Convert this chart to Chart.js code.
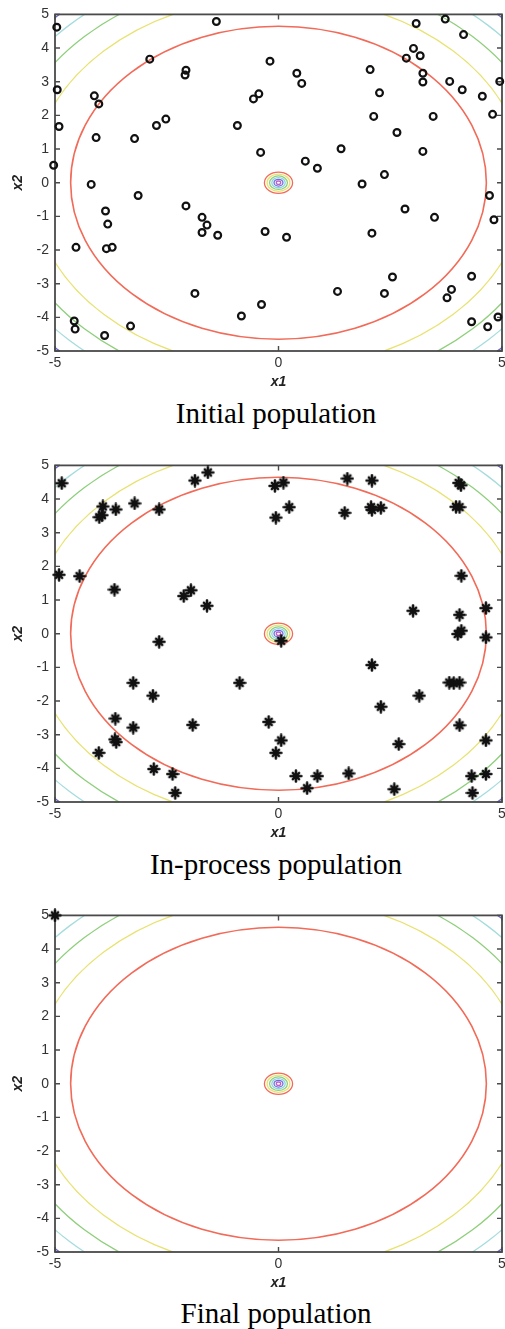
<!DOCTYPE html>
<html>
<head>
<meta charset="utf-8">
<script src="https://cdn.jsdelivr.net/npm/chart.js@4/dist/chart.umd.min.js"></script>
<style>
  html, body { margin: 0; padding: 0; background: #fff; width: 505px; height: 1329px; overflow: hidden; }
  canvas.panel { position: absolute; left: 0; }
  .caption {
    position: absolute; left: 0; width: 552px; text-align: center;
    font-family: "Liberation Serif", "Times New Roman", serif;
    font-size: 29px; line-height: 29px; color: #000; white-space: nowrap;
  }
</style>
</head>
<body>
<canvas id="initial" class="panel" width="520" height="395" style="top:0px"></canvas>
<div class="caption" style="top:399px">Initial population</div>
<canvas id="inprocess" class="panel" width="520" height="395" style="top:451px"></canvas>
<div class="caption" style="top:850px">In-process population</div>
<canvas id="final" class="panel" width="520" height="395" style="top:901px"></canvas>
<div class="caption" style="top:1299px">Final population</div>

<script>
// Search domain and tick values
const xTicks = [-5, 0, 5];
const yTicks = [-5, -4, -3, -2, -1, 0, 1, 2, 3, 4, 5];

// Objective contour levels (circular about the optimum), given as radii in x1/x2 units
const contourCenter = [0, 0];
const outerContourRadii = [4.65, 5.53, 6.14, 6.62, 7.0];
const outerContourColors = ['#f26a58', '#e8e272', '#8fcf7c', '#a6dcdc', '#6464d2'];
const innerContourRadii = [0.315, 0.255, 0.2, 0.15, 0.1, 0.05];
const innerContourColors = ['#f26a58', '#e8e272', '#8fcf7c', '#8cd4e0', '#6a6ae0', '#c060c8'];

// Initial population
const initialX1 = [-4.96,-1.39,-2.88,-2.07,-2.09,-4.95,-4.12,-4.02,-4.91,-2.73,
  -2.52,-4.08,-3.22,-5.03,-4.19,-3.14,-2.07,-3.87,-0.56,-0.44,
  -0.40,-0.92,-0.19,0.41,0.52,2.05,2.26,2.13,2.65,3.46,
  3.23,3.08,3.73,4.14,3.02,2.86,3.17,3.23,3.23,3.83,
  4.11,4.56,4.95,4.79,0.60,0.87,1.40,2.37,1.87,2.83,
  3.49,4.72,4.82,-3.82,-4.53,-3.85,-3.72,-4.57,-4.55,-3.89,
  -3.31,-1.71,-1.60,-1.71,-1.36,-1.87,-0.83,-0.38,-0.30,0.18,
  2.09,1.32,2.37,2.55,3.77,3.87,4.32,4.32,4.68,4.91];
const initialX2 = [4.62,4.79,3.67,3.34,3.20,2.76,2.58,2.34,1.67,1.70,
  1.89,1.34,1.31,0.52,-0.05,-0.38,-0.69,-0.84,2.49,2.64,
  0.90,1.70,3.61,3.25,2.95,3.36,2.67,1.97,1.49,1.97,
  0.93,4.73,4.86,4.40,3.99,3.70,3.77,3.25,2.99,3.01,
  2.76,2.57,3.01,2.03,0.64,0.43,1.01,0.24,-0.04,-0.78,
  -1.03,-0.38,-1.10,-1.23,-1.92,-1.96,-1.92,-4.11,-4.35,-4.54,
  -4.26,-1.03,-1.26,-1.48,-1.56,-3.29,-3.96,-3.62,-1.45,-1.62,
  -1.50,-3.23,-3.29,-2.80,-3.42,-3.17,-2.78,-4.13,-4.28,-3.99];

// Population part-way through the run
const inProcessX1 = [-4.85,-3.93,-4.01,-3.95,-3.64,-3.22,-2.67,-1.87,-1.58,-4.91,
  -4.45,-3.67,-2.12,-1.96,-1.60,-2.67,
  -0.08,0.11,0.24,-0.06,1.54,2.09,1.48,2.07,2.29,2.09,
  4.03,4.08,3.97,4.05,4.09,3.01,4.05,4.64,4.01,4.09,4.64,0.06,
  -3.25,-2.81,-3.65,-3.25,-3.66,-3.63,-4.02,-2.79,-2.37,-2.31,-1.92,-0.87,
  -0.22,0.06,-0.06,0.39,0.64,0.87,1.57,2.09,2.29,3.15,
  2.69,2.59,3.82,3.92,4.05,4.05,4.64,4.32,4.64,4.34];
const inProcessX2 = [4.47,3.78,3.46,3.52,3.69,3.87,3.69,4.55,4.79,1.75,
  1.71,1.31,1.12,1.29,0.83,-0.24,
  4.39,4.49,3.76,3.45,4.61,4.55,3.59,3.76,3.74,3.68,
  4.48,4.41,3.77,3.76,1.72,0.68,0.56,0.76,-0.01,0.09,-0.11,-0.21,
  -1.46,-1.84,-2.52,-2.79,-3.14,-3.22,-3.54,-4.02,-4.17,-4.73,-2.71,-1.46,
  -2.62,-3.17,-3.54,-4.23,-4.59,-4.23,-4.15,-0.93,-2.17,-1.84,
  -3.28,-4.62,-1.45,-1.47,-1.45,-2.72,-3.17,-4.23,-4.17,-4.73];

// Converged population
const finalX1 = [-5];
const finalX2 = [5];

const FONT_SANS = '"Liberation Sans", Arial, Helvetica, sans-serif';
Chart.defaults.font.family = FONT_SANS;

function toPoints(xs, ys) {
  return xs.map((v, i) => ({ x: v, y: ys[i] }));
}

// Heavy asterisk marker, like a bold '*' plot symbol
function asteriskMarker() {
  const c = document.createElement('canvas');
  c.width = 14; c.height = 14;
  const g = c.getContext('2d');
  g.strokeStyle = '#111';
  g.lineCap = 'round';
  g.lineWidth = 2.6;
  g.beginPath();
  g.moveTo(7, 1.6); g.lineTo(7, 12.4);
  g.moveTo(1.6, 7); g.lineTo(12.4, 7);
  g.stroke();
  g.beginPath();
  g.moveTo(3.9, 3.9); g.lineTo(10.1, 10.1);
  g.moveTo(10.1, 3.9); g.lineTo(3.9, 10.1);
  g.stroke();
  return c;
}
const ASTERISK = asteriskMarker();

// Contours underneath the population, then the box with inward ticks
const contourPlugin = {
  id: 'contours',
  beforeDatasetsDraw(chart) {
    const { ctx, chartArea: a, scales: { x, y } } = chart;
    const cx = x.getPixelForValue(contourCenter[0]);
    const cy = y.getPixelForValue(contourCenter[1]);
    const ring = (r, color, width) => {
      const rx = Math.abs(x.getPixelForValue(contourCenter[0] + r) - cx);
      const ry = Math.abs(y.getPixelForValue(contourCenter[1] + r) - cy);
      ctx.beginPath();
      ctx.ellipse(cx, cy, rx, ry, 0, 0, Math.PI * 2);
      ctx.strokeStyle = color;
      ctx.lineWidth = width;
      ctx.stroke();
    };
    ctx.save();
    ctx.beginPath();
    ctx.rect(a.left, a.top, a.right - a.left, a.bottom - a.top);
    ctx.clip();
    outerContourRadii.forEach((r, i) => ring(r, outerContourColors[i], i === 0 ? 1.6 : 1.3));
    innerContourRadii.forEach((r, i) => ring(r, innerContourColors[i], 1.3));
    ctx.restore();

    // axes box
    ctx.save();
    ctx.strokeStyle = '#4a4a4a';
    ctx.lineWidth = 1.8;
    ctx.strokeRect(a.left, a.top, a.right - a.left, a.bottom - a.top);
    const tl = 5;
    ctx.lineWidth = 1.4;
    ctx.beginPath();
    x.ticks.forEach(t => {
      const px = x.getPixelForValue(t.value);
      ctx.moveTo(px, a.bottom); ctx.lineTo(px, a.bottom - tl);
      ctx.moveTo(px, a.top); ctx.lineTo(px, a.top + tl);
    });
    y.ticks.forEach(t => {
      const py = y.getPixelForValue(t.value);
      ctx.moveTo(a.left, py); ctx.lineTo(a.left + tl, py);
      ctx.moveTo(a.right, py); ctx.lineTo(a.right - tl, py);
    });
    ctx.stroke();
    ctx.restore();
  }
};

function makeChart(id, xs, ys, marker) {
  const isCircle = marker === 'circle';
  const dataset = {
    data: toPoints(xs, ys),
    showLine: false,
    clip: false,
    pointStyle: isCircle ? 'circle' : ASTERISK,
    pointBorderColor: '#111',
    pointBackgroundColor: isCircle ? 'rgba(0,0,0,0)' : '#111',
    pointRadius: isCircle ? 3.4 : 5,
    pointBorderWidth: isCircle ? 2.2 : 0,
    pointHoverRadius: 0
  };
  return new Chart(document.getElementById(id), {
    type: 'scatter',
    data: { datasets: [dataset] },
    plugins: [contourPlugin],
    options: {
      responsive: false,
      maintainAspectRatio: false,
      animation: false,
      events: [],
      layout: { padding: { top: 13, left: 0, right: 18, bottom: 4 } },
      plugins: { legend: { display: false }, tooltip: { enabled: false } },
      scales: {
        x: {
          type: 'linear', min: -5, max: 5,
          afterBuildTicks: s => { s.ticks = xTicks.map(v => ({ value: v })); },
          afterFit: s => { s.height = 40; },
          grid: { display: false, drawTicks: false },
          border: { display: false },
          ticks: { color: '#333', font: { size: 14 }, padding: 4, maxRotation: 0, autoSkip: false },
          title: { display: true, text: 'x1', color: '#222',
                   font: { size: 14, style: 'italic', weight: 'bold' }, padding: { top: 0, bottom: 0 } }
        },
        y: {
          type: 'linear', min: -5, max: 5,
          afterBuildTicks: s => { s.ticks = yTicks.map(v => ({ value: v })); },
          afterFit: s => { s.width = 55; },
          grid: { display: false, drawTicks: false },
          border: { display: false },
          ticks: { color: '#333', font: { size: 14 }, padding: 6, autoSkip: false },
          title: { display: true, text: 'x2', color: '#222',
                   font: { size: 14, style: 'italic', weight: 'bold' }, padding: { top: 10, bottom: 0 } }
        }
      }
    }
  });
}

makeChart('initial', initialX1, initialX2, 'circle');
makeChart('inprocess', inProcessX1, inProcessX2, 'asterisk');
makeChart('final', finalX1, finalX2, 'asterisk');
</script>
</body>
</html>
